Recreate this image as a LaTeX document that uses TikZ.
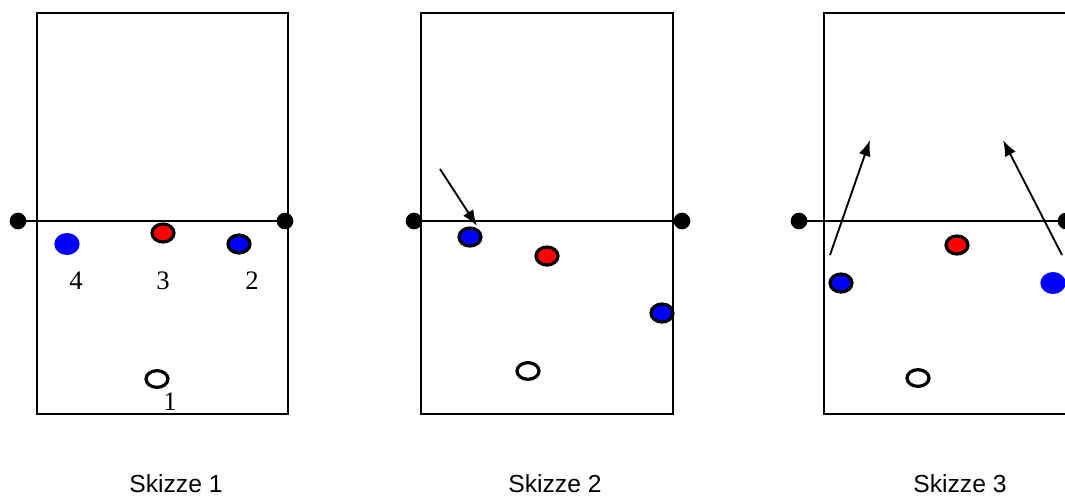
\documentclass[tikz,border=0pt]{standalone}
\usepackage{fontspec}
\setmainfont{Liberation Serif}
\setsansfont{Liberation Sans}
\usetikzlibrary{shapes.geometric,arrows.meta}
\begin{document}
\begin{tikzpicture}[x=0.75pt,y=-0.75pt,
  court/.style={draw,line width=1.6pt},
  netline/.style={line width=1.6pt},
  post/.style={circle,fill=black,inner sep=0pt,minimum size=12.5pt},
  player/.style={ellipse,draw,line width=2.4pt,inner sep=0pt,minimum width=16.5pt,minimum height=13.5pt},
  red player/.style={player,fill=red},
  blue player/.style={player,fill=blue},
  open player/.style={player,fill=white,minimum height=12.5pt},
  free player/.style={ellipse,fill=blue,inner sep=0pt,minimum width=19pt,minimum height=16.5pt},
  move/.style={line width=1.4pt,-{Latex[length=12pt,width=9pt]}},
  num/.style={inner sep=0pt,font=\fontsize{20}{22}\selectfont},
  caption/.style={inner sep=0pt,font=\sffamily\fontsize{18.5}{20}\selectfont}]
\useasboundingbox (0,0) rectangle (1065,497);
\fill[white] (0,0) rectangle (1065,497);
\clip (0,0) rectangle (1065,497);

% ---- Skizze 1 ----
\draw[court] (37,13) rectangle (288,414);
\node[post] (n1l) at (18,221) {};
\node[post] (n1r) at (285,221) {};
\draw[netline] (n1l.center) -- (n1r.center);
\node[free player] (p1a) at (67,244) {};
\node[red player]  (p1b) at (163,233) {};
\node[blue player] (p1c) at (239,244) {};
\node[open player] (p1d) at (157,379) {};
\node[num] (l4) at (76,281) {4};
\node[num] (l3) at (163,281) {3};
\node[num] (l2) at (252,281) {2};
\node[num] (l1) at (170,402) {1};
\node[caption] (c1) at (176,484) {Skizze 1};

% ---- Skizze 2 ----
\draw[court] (421,13) rectangle (673,414);
\node[post] (n2l) at (414,221) {};
\node[post] (n2r) at (682,221) {};
\draw[netline] (n2l.center) -- (n2r.center);
\node[blue player] (p2a) at (470,237) {};
\node[red player]  (p2b) at (547,256) {};
\node[blue player] (p2c) at (662,313) {};
\node[open player] (p2d) at (528,371) {};
\coordinate (a2s) at (440,169);
\coordinate (a2e) at (477,226);
\draw[move] (a2s) -- (a2e);
\node[caption] (c2) at (555,484) {Skizze 2};

% ---- Skizze 3 ----
\draw[court] (824,13) rectangle (1076,414);
\node[post] (n3l) at (799,221) {};
\node[post] (n3r) at (1066,221) {};
\draw[netline] (n3l.center) -- (n3r.center);
\node[blue player] (p3a) at (841,283) {};
\node[red player]  (p3b) at (957,245) {};
\node[free player] (p3c) at (1053,283) {};
\node[open player] (p3d) at (918,378) {};
\coordinate (a3s) at (830,255);
\coordinate (a3e) at (870,140);
\coordinate (a4s) at (1062,255);
\coordinate (a4e) at (1003,140);
\draw[move] (a3s) -- (a3e);
\draw[move] (a4s) -- (a4e);
\node[caption] (c3) at (960,484) {Skizze 3};
\end{tikzpicture}
\end{document}
